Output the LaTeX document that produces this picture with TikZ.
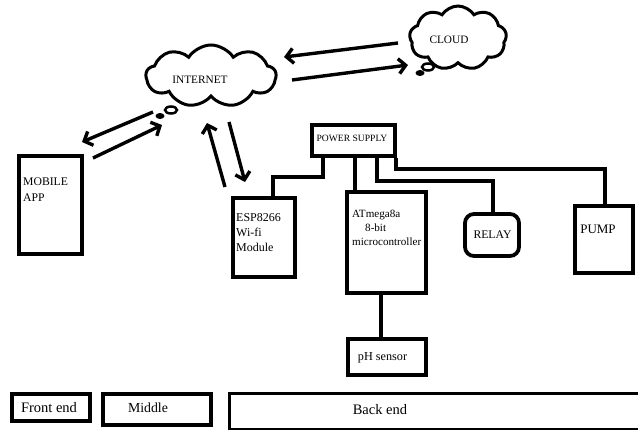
\documentclass[tikz,border=0pt]{standalone}
\usepackage{fontspec}
\setmainfont{Liberation Serif}
\usetikzlibrary{shapes.symbols,arrows.meta,calc}
\tikzset{
  box/.style={draw, line width=3.8pt, inner sep=0pt},
  wire/.style={line width=3.8pt},
  arr/.style={line width=3.4pt, -{Straight Barb[length=7pt,width=15pt]}},
  lbl/.style={inner sep=0pt, text=black},
  cloudnode/.style={cloud, draw, line width=3pt, inner sep=0pt, cloud puff arc=115},
  bubble/.style={line width=2.5pt}
}
\newcommand{\fs}[2]{\fontsize{#1}{#2}\selectfont}
\begin{document}
\begin{tikzpicture}[x=1pt,y=-1pt]
\useasboundingbox (0,0) rectangle (638,429);

% clouds
\node[cloudnode, cloud puffs=9, aspect=2.1, minimum width=130, minimum height=62] (internet) at (211,76) {};
\node[lbl, font=\fs{11.3}{13}] (internettxt) at (200,80) {INTERNET};
\node[cloudnode, cloud puffs=9, aspect=1.5, minimum width=97, minimum height=64] (cloud) at (458,38) {};
\node[lbl, font=\fs{11.3}{13}] (cloudtxt) at (449,40) {CLOUD};
\draw[bubble] (171,110) ellipse [x radius=6, y radius=3.5];
\fill (160,116) ellipse [x radius=4.5, y radius=3];
\draw[bubble] (428,67) ellipse [x radius=6, y radius=3.5];
\fill (420,73) ellipse [x radius=4.5, y radius=3];

% boxes
\node[box, minimum width=63, minimum height=98] (mobile) at (50.5,205) {};
\node[lbl, anchor=north west, align=left, font=\fs{11.7}{16}] (mobiletxt) at (23,178) {MOBILE\\APP};
\node[box, minimum width=62, minimum height=79] (esp) at (264,237.5) {};
\node[lbl, anchor=north west, align=left, font=\fs{12}{15}] (esptxt) at (236,213) {ESP8266\\Wi-fi\\Module};
\node[box, minimum width=83, minimum height=31] (ps) at (353.5,140.5) {};
\node[lbl, font=\fs{9.6}{11}] (pstxt) at (352,138) {POWER SUPPLY};
\node[box, minimum width=79, minimum height=101] (atm) at (386.5,242.5) {};
\node[lbl, anchor=north west, align=left, font=\fs{11.1}{14}] (atmtxt) at (352,210) {ATmega8a\\\hspace*{13pt}8-bit\\microcontroller};
\node[box, rounded corners=9pt, minimum width=54, minimum height=42] (relay) at (492,235) {};
\node[lbl, font=\fs{11.7}{14}] (relaytxt) at (492.5,235) {RELAY};
\node[box, minimum width=58, minimum height=67] (pump) at (604,239.5) {};
\node[lbl, font=\fs{13}{15}] (pumptxt) at (598,229.5) {PUMP};
\node[box, minimum width=78, minimum height=36] (ph) at (387,357) {};
\node[lbl, font=\fs{12.2}{14}] (phtxt) at (382.5,357.5) {pH sensor};

% bottom bar
\node[box, line width=4pt, minimum width=78, minimum height=27] (front) at (51,407.5) {};
\node[lbl, font=\fs{14.5}{16}] (fronttxt) at (49,408) {Front end};
\node[box, minimum width=108, minimum height=31] (middle) at (157,409.5) {};
\node[lbl, font=\fs{13.8}{16}] (middletxt) at (148,407.5) {Middle};
\node[box, minimum width=415.5, minimum height=36] (back) at (437.25,411.5) {};
\node[lbl, font=\fs{14.5}{16}] (backtxt) at (380,410) {Back end};

% wires
\coordinate (j1) at (323,177);
\draw[wire] ([xshift=9pt]esp.north) |- (j1) -- (j1 |- ps.south);
\coordinate (p2) at ([xshift=-31.5pt]atm.north);
\draw[wire] (p2) -- (p2 |- ps.south);
\coordinate (p3) at ([xshift=23.5pt]ps.south);
\draw[wire] (p3) -- ++(0,23) -| ([xshift=1pt]relay.north);
\coordinate (p4) at ([xshift=42.5pt]ps.south);
\draw[wire] (p4) -- ++(0,11) -| ([xshift=1pt]pump.north);
\coordinate (p5) at ([xshift=-5.5pt]atm.south);
\draw[wire] (p5) -- (p5 |- ph.north);

% arrows
\coordinate (c2is) at (398,43);  \coordinate (c2ie) at (284,57);
\coordinate (i2cs) at (292,80);  \coordinate (i2ce) at (408,65);
\coordinate (i2ms) at (153,112); \coordinate (i2me) at (82,142);
\coordinate (m2is) at (93,158);  \coordinate (m2ie) at (162,125);
\coordinate (e2is) at (225,187); \coordinate (e2ie) at (207,123);
\coordinate (i2es) at (229,122); \coordinate (i2ee) at (245,182);
\draw[arr] (c2is) -- (c2ie);
\draw[arr] (i2cs) -- (i2ce);
\draw[arr] (i2ms) -- (i2me);
\draw[arr] (m2is) -- (m2ie);
\draw[arr] (e2is) -- (e2ie);
\draw[arr] (i2es) -- (i2ee);
\end{tikzpicture}
\end{document}
